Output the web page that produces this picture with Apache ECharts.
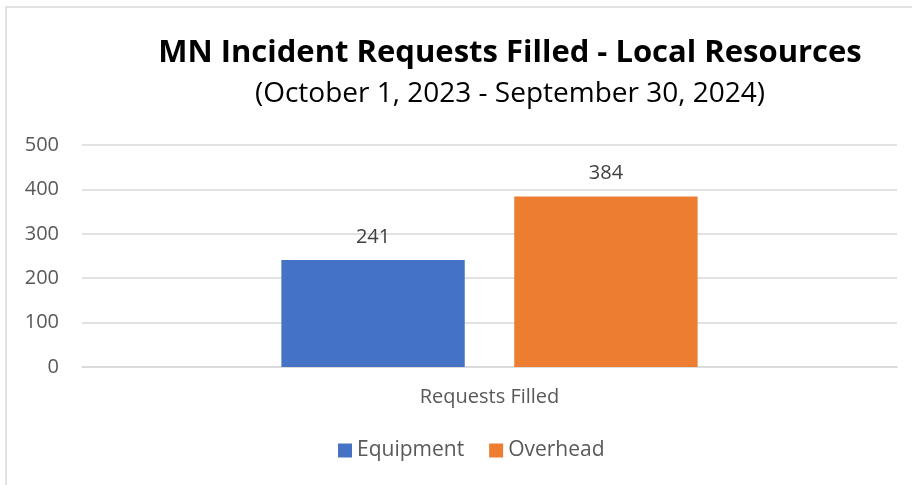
<!DOCTYPE html>
<html style="height: 100%">
<head>
  <meta charset="utf-8">
  <title>MN Incident Requests Filled</title>
</head>
<body style="height: 100%; margin: 0">
  <div id="container" style="width: 912px; height: 485px"></div>
  <script src="https://cdn.jsdelivr.net/npm/echarts@6/dist/echarts.min.js"></script>
  <script type="text/javascript">
    var categories = ['Requests Filled'];
    var equipment = [241];
    var overhead = [384];
    var seriesNames = ['Equipment', 'Overhead'];

    var font = 'Open Sans';
    var myChart = echarts.init(document.getElementById('container'));
    var option = {
      backgroundColor: '#fff',
      graphic: [{
        type: 'rect',
        shape: { x: 6, y: 7, width: 920, height: 490 },
        style: { fill: 'none', stroke: '#d9d9d9', lineWidth: 1.5 },
        silent: true
      }],
      title: {
        text: 'MN Incident Requests Filled - Local Resources',
        subtext: '(October 1, 2023 - September 30, 2024)',
        left: 505,
        textAlign: 'center',
        top: 33,
        itemGap: 11,
        textStyle: { fontFamily: font, fontWeight: 'bold', fontSize: 31, color: '#000' },
        subtextStyle: { fontFamily: font, fontSize: 28, color: '#000' }
      },
      legend: {
        bottom: 19,
        left: 333,
        itemWidth: 14,
        itemHeight: 14,
        itemGap: 25,
        icon: 'rect',
        textStyle: { fontFamily: font, fontSize: 21, color: '#595959' },
        data: seriesNames
      },
      grid: { left: 82, right: 15, top: 145, bottom: 118 },
      xAxis: {
        type: 'category',
        data: categories,
        axisLine: { lineStyle: { color: '#d9d9d9', width: 1.5 } },
        axisTick: { show: false },
        axisLabel: { fontFamily: font, fontSize: 20, color: '#595959', margin: 20 }
      },
      yAxis: {
        type: 'value',
        min: 0,
        max: 500,
        interval: 100,
        axisLabel: { fontFamily: font, fontSize: 20, color: '#595959', margin: 23 },
        splitLine: { lineStyle: { color: '#d9d9d9', width: 1.5 } }
      },
      series: [{
        name: seriesNames[0],
        type: 'bar',
        data: equipment,
        barWidth: '22.5%',
        barGap: '27%',
        itemStyle: { color: '#4472C4' },
        label: { show: true, position: 'top', distance: 13, fontFamily: font, fontSize: 20, color: '#404040' }
      }, {
        name: seriesNames[1],
        type: 'bar',
        data: overhead,
        barWidth: '22.5%',
        itemStyle: { color: '#ED7D31' },
        label: { show: true, position: 'top', distance: 13, fontFamily: font, fontSize: 20, color: '#404040' }
      }]
    };
    myChart.setOption(option);
  </script>
</body>
</html>
